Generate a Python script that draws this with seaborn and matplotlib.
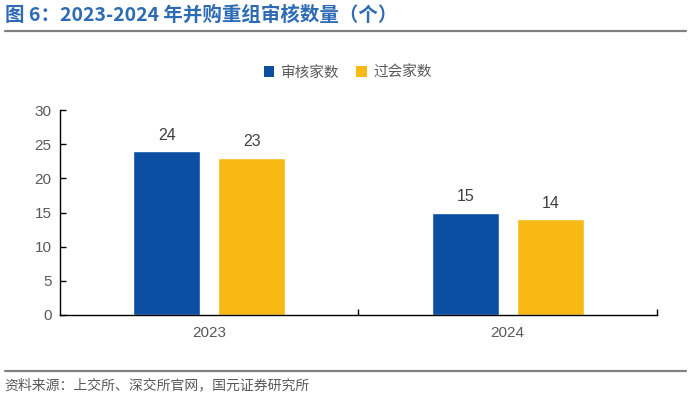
import pandas as pd
import matplotlib.pyplot as plt
import seaborn as sns
from matplotlib.lines import Line2D
from matplotlib.patches import Patch
from matplotlib.ticker import FixedLocator

# data
years = ["2023", "2024"]
series = ["审核家数", "过会家数"]
review_counts = [24, 15]
approved_counts = [23, 14]

colors = ["#0B4EA2", "#F8B914"]

df = pd.DataFrame({
    "年份": years * 2,
    "类型": [series[0]] * len(years) + [series[1]] * len(years),
    "数量": review_counts + approved_counts,
})

sns.set_style("white")
plt.rcParams["font.family"] = ["Noto Sans CJK SC", "DejaVu Sans"]

fig = plt.figure(figsize=(6.91, 4.0), dpi=100)
ax = fig.add_axes([0.0868, 0.2125, 0.8640, 0.5125])

sns.barplot(data=df, x="年份", y="数量", hue="类型", palette=colors,
            width=0.57, gap=0.21, ax=ax, legend=False, saturation=1)

for c in ax.containers:
    ax.bar_label(c, padding=6, fontsize=11.5, color="#404040",
                 family=["Liberation Sans", "DejaVu Sans"])

ax.set_ylim(0, 30)
ax.set_yticks(range(0, 31, 5))
ax.set_xlim(-0.5, 1.5)
ax.set_xlabel("")
ax.set_ylabel("")

for s in ["top", "right"]:
    ax.spines[s].set_visible(False)
for s in ["left", "bottom"]:
    ax.spines[s].set_color("#000000")
    ax.spines[s].set_linewidth(1.0)

ax.tick_params(axis="y", direction="in", length=4, width=1, color="#000000",
               labelsize=11, labelcolor="#595959", pad=6, left=True)
ax.tick_params(axis="x", which="major", length=0, labelsize=11,
               labelcolor="#595959", pad=8)
ax.xaxis.set_minor_locator(FixedLocator([0.5, 1.5]))
ax.tick_params(axis="x", which="minor", direction="in", length=4, width=1,
               color="#000000", bottom=True)
for lbl in ax.get_xticklabels() + ax.get_yticklabels():
    lbl.set_family(["Liberation Sans", "DejaVu Sans"])

handles = [Patch(facecolor=col, edgecolor="none") for col in colors]
fig.legend(handles, series, loc="center", bbox_to_anchor=(0.503, 0.818),
           ncol=2, frameon=False, fontsize=10.5, handlelength=0.75,
           handleheight=0.75, handletextpad=0.4, columnspacing=1.2,
           labelcolor="#595959")

fig.text(0.007, 0.962, "图 6：2023-2024 年并购重组审核数量（个）",
         fontsize=14, fontweight="bold", color="#2E6BB5", va="center",
         ha="left")
fig.add_artist(Line2D([0.007, 0.993], [0.922, 0.922], color="#808080",
                      linewidth=1.6, transform=fig.transFigure))
fig.add_artist(Line2D([0.007, 0.993], [0.073, 0.073], color="#808080",
                      linewidth=1.6, transform=fig.transFigure))
fig.text(0.007, 0.036, "资料来源：上交所、深交所官网，国元证券研究所",
         fontsize=10, color="#595959", va="center", ha="left")

fig.savefig("out.png", dpi=100)
